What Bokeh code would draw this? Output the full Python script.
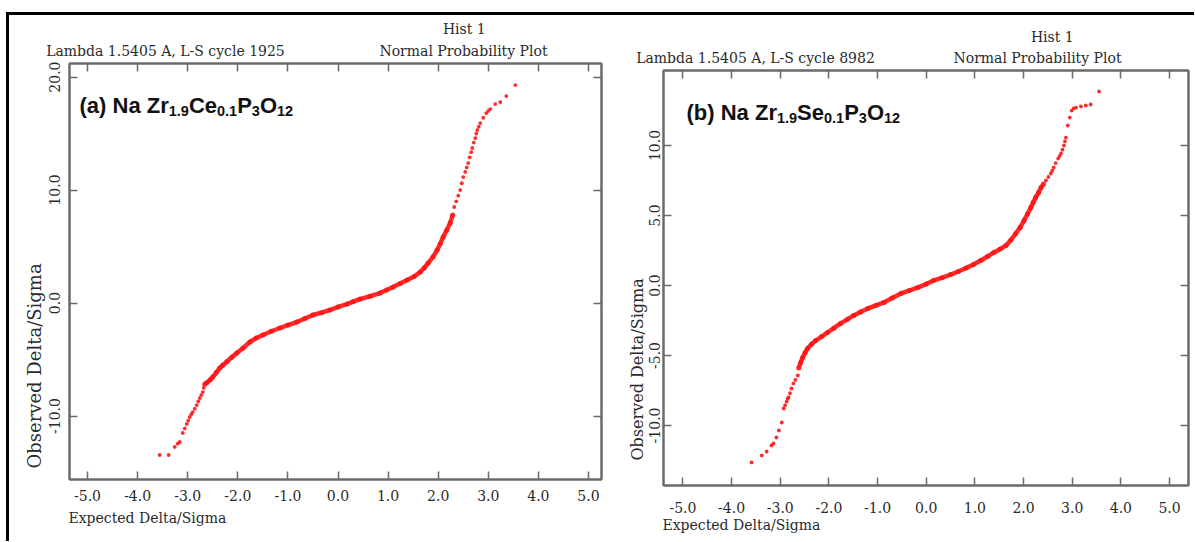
import math
from bokeh.plotting import figure
from bokeh.models import Range1d, LinearAxis, FixedTicker, PrintfTickFormatter, Label, Title, Spacer
from bokeh.layouts import row, column
from bokeh.embed import file_html
from bokeh.resources import INLINE

# ---------------- data ----------------
X_TICKS = [-5.0, -4.0, -3.0, -2.0, -1.0, 0.0, 1.0, 2.0, 3.0, 4.0, 5.0]
A_Y_TICKS = [-10.0, 0.0, 10.0, 20.0]
B_Y_TICKS = [-10.0, -5.0, 0.0, 5.0, 10.0]

HEAD_A = ["Hist 1", "Lambda 1.5405 A, L-S cycle 1925", "Normal Probability Plot"]
HEAD_B = ["Hist 1", "Lambda 1.5405 A, L-S cycle 8982", "Normal Probability Plot"]
X_TITLE = "Expected Delta/Sigma"
Y_TITLE = "Observed Delta/Sigma"

# panel (a)  Na Zr1.9Ce0.1P3O12
a_dense_x = [-2.66, -2.62, -2.55, -2.50, -2.43, -2.36, -2.30, -2.22, -2.12, -2.02, -1.90, -1.76,
             -1.63, -1.50, -1.33, -1.16, -1.00, -0.82, -0.66, -0.50, -0.33, -0.16, 0.00, 0.18,
             0.30, 0.44, 0.64, 0.84, 0.97, 1.10, 1.24, 1.38, 1.52, 1.64, 1.72, 1.80, 1.90,
             1.98, 2.04, 2.10, 2.17, 2.24, 2.29]
a_dense_y = [-7.20, -7.05, -6.80, -6.55, -6.15, -5.75, -5.50, -5.20, -4.80, -4.42, -4.00, -3.45,
             -3.10, -2.83, -2.50, -2.21, -1.95, -1.68, -1.37, -1.06, -0.85, -0.62, -0.35, -0.09,
             0.12, 0.35, 0.60, 0.88, 1.15, 1.42, 1.72, 2.04, 2.35, 2.74, 3.10, 3.54, 4.10,
             4.69, 5.25, 5.84, 6.45, 7.08, 7.80]
a_tail_x = [-3.56, -3.38, -3.26, -3.20, -3.16, -3.10, -3.06, -3.02, -2.99, -2.96, -2.93, -2.90,
            -2.86, -2.82, -2.79, -2.76, -2.73, -2.70, -2.68,
            2.32, 2.36, 2.40, 2.44, 2.47, 2.50, 2.54, 2.57, 2.60, 2.63, 2.66, 2.68, 2.71,
            2.74, 2.76, 2.78, 2.81, 2.84, 2.90, 2.96, 3.00, 3.04, 3.14, 3.24, 3.36, 3.54]
a_tail_y = [-13.45, -13.45, -12.74, -12.45, -12.30, -11.50, -11.10, -10.70, -10.40, -10.09, -9.85, -9.65,
            -9.35, -9.03, -8.70, -8.41, -8.15, -7.88, -7.50,
            8.50, 9.00, 9.50, 10.00, 10.60, 11.15, 11.60, 12.00, 12.39, 12.90, 13.35, 13.72, 14.20,
            14.60, 15.00, 15.31, 15.60, 15.93, 16.40, 16.81, 17.00, 17.17, 17.61, 17.79, 18.32, 19.29]

# panel (b)  Na Zr1.9Se0.1P3O12
b_dense_x = [-2.62, -2.58, -2.54, -2.49, -2.44, -2.36, -2.27, -2.15, -2.03, -1.90, -1.76, -1.62,
             -1.49, -1.35, -1.20, -1.03, -0.87, -0.70, -0.52, -0.35, -0.17, 0.00, 0.15, 0.32,
             0.50, 0.66, 0.82, 0.97, 1.12, 1.26, 1.39, 1.52, 1.64, 1.74, 1.84, 1.93, 2.01,
             2.08, 2.15, 2.20, 2.25, 2.31, 2.36, 2.41]
b_dense_y = [-5.90, -5.50, -5.14, -4.80, -4.50, -4.20, -3.93, -3.65, -3.36, -3.05, -2.71, -2.42,
             -2.14, -1.90, -1.64, -1.42, -1.21, -0.90, -0.57, -0.36, -0.14, 0.10, 0.36, 0.55,
             0.78, 1.00, 1.25, 1.50, 1.79, 2.07, 2.36, 2.60, 2.86, 3.25, 3.71, 4.15, 4.64,
             5.10, 5.57, 5.95, 6.29, 6.65, 7.00, 7.25]
b_tail_x = [-3.59, -3.38, -3.28, -3.18, -3.14, -3.08, -3.03, -2.97, -2.93, -2.90, -2.87, -2.85,
            -2.83, -2.80, -2.77, -2.73, -2.69, -2.64,
            2.46, 2.51, 2.56, 2.59, 2.62, 2.66, 2.71, 2.74, 2.77, 2.80, 2.83, 2.85, 2.87,
            2.91, 2.95, 2.99, 3.03, 3.08, 3.18, 3.28, 3.38, 3.55]
b_tail_y = [-12.64, -12.14, -11.86, -11.43, -11.29, -10.86, -10.36, -9.79, -8.79, -8.55, -8.29, -8.10,
            -8.00, -7.70, -7.36, -7.00, -6.75, -6.43,
            7.50, 7.75, 8.00, 8.20, 8.43, 8.75, 9.07, 9.25, 9.43, 9.70, 10.00, 10.30, 10.57,
            11.43, 12.00, 12.50, 12.65, 12.71, 12.79, 12.86, 12.93, 13.86]

# ---------------- styles ----------------
SERIF = "DejaVu Serif"
SANS = "Liberation Sans"
TXT = "#2a2a2a"
FRAME = "#6a6a6a"
RED = "#ff1414"

# Liberation Sans Bold advance widths (em)
BOLD_W = {'(': 0.333, ')': 0.333, 'a': 0.556, 'b': 0.611, ' ': 0.278, 'N': 0.722, 'Z': 0.611,
          'r': 0.389, 'C': 0.722, 'e': 0.556, 'S': 0.667, 'P': 0.667, 'O': 0.778, '1': 0.556,
          '.': 0.278, '9': 0.556, '0': 0.556, '3': 0.556, '2': 0.556}
# DejaVu Serif advance widths (em) for the short header text
SERIF_W = {'H': 0.752, 'i': 0.320, 's': 0.513, 't': 0.402, ' ': 0.318, '1': 0.636}


def text_w(s, size, table=BOLD_W):
    return sum(table.get(c, 0.556) for c in s) * size


def text_axis(ticks, labels, standoff):
    """an 'above' axis with no line/ticks, used only to carry header texts"""
    ax = LinearAxis(ticker=FixedTicker(ticks=ticks),
                    major_label_overrides={t: s for t, s in zip(ticks, labels)},
                    axis_line_color=None, major_tick_line_color=None, minor_tick_line_color=None,
                    major_tick_in=0, major_tick_out=0, major_label_standoff=standoff,
                    major_label_text_font=SERIF, major_label_text_font_size="14px",
                    major_label_text_color=TXT)
    return ax


def make_panel(geo, dense_x, dense_y, tail_x, tail_y, y_ticks, cfg, heads, formula):
    (fl, ft, fw, fh, xs, xe, ys, ye, bl, bt, br, bb) = geo
    p = figure(frame_width=fw, frame_height=fh, title=None,
               x_range=Range1d(xs, xe), y_range=Range1d(ys, ye),
               min_border_left=bl, min_border_top=bt, min_border_right=br, min_border_bottom=bb,
               output_backend="svg", toolbar_location=None,
               background_fill_color="white", border_fill_color="white")
    p.grid.visible = False
    p.outline_line_color = FRAME
    p.outline_line_width = 2

    def px2d(px, py):
        return (xs + (px - fl) / fw * (xe - xs), ye - (py - ft) / fh * (ye - ys))

    def pxx(px):
        return round(xs + (px - fl) / fw * (xe - xs), 3)

    for ax in (p.xaxis[0], p.yaxis[0]):
        ax.axis_line_color = FRAME
        ax.axis_line_width = 2
        ax.major_tick_line_color = FRAME
        ax.major_tick_line_width = 1.5
        ax.major_tick_in = 8
        ax.major_tick_out = 0
        ax.minor_tick_line_color = None
        ax.formatter = PrintfTickFormatter(format="%.1f")
        ax.major_label_text_font = SERIF
        ax.major_label_text_font_size = "14px"
        ax.major_label_text_color = TXT
    p.xaxis[0].ticker = FixedTicker(ticks=X_TICKS)
    p.yaxis[0].ticker = FixedTicker(ticks=y_ticks)
    p.yaxis[0].major_label_orientation = "vertical"
    p.xaxis[0].major_label_standoff = cfg["xstand"]
    p.yaxis[0].major_label_standoff = cfg["ystand"]

    # tick marks on top and right sides
    for loc, tk in (("above", X_TICKS), ("right", y_ticks)):
        ax = LinearAxis(ticker=FixedTicker(ticks=tk), axis_line_color=FRAME, axis_line_width=2,
                        major_tick_line_color=FRAME, major_tick_line_width=1.5,
                        major_tick_in=8, major_tick_out=0, minor_tick_line_color=None,
                        major_label_text_font_size="0px", major_label_text_color=None,
                        major_label_standoff=0)
        p.add_layout(ax, loc)

    # header rows: row 2 (two texts) as tick labels of a bare axis, row 1 as a title
    hist_x, lam_x, npp_x = cfg["head_px"]
    p.add_layout(text_axis([pxx(lam_x), pxx(npp_x)], [heads[1], heads[2]], cfg["row2_stand"]), "above")
    p.add_layout(Title(text=heads[0], align="left",
                       offset=hist_x - fl - text_w(heads[0], 14, SERIF_W) / 2,
                       standoff=cfg["row1_stand"], text_font=SERIF, text_font_size="14px",
                       text_font_style="normal", text_color=TXT), "above")

    # axis titles
    p.add_layout(Title(text=Y_TITLE, align="left", offset=cfg["yt_off"],
                       standoff=cfg["yt_stand"], text_font=SERIF, text_font_size=cfg["yt_size"],
                       text_font_style="normal", text_color=TXT), "left")
    p.add_layout(Title(text=X_TITLE, align="left", offset=-1,
                       standoff=cfg["xt_stand"], text_font=SERIF, text_font_size="14px",
                       text_font_style="normal", text_color=TXT), "below")

    # points
    p.line(dense_x, dense_y, line_width=4.5, color=RED, line_alpha=0.9)
    p.scatter(dense_x, dense_y, size=5, color=RED, line_width=0, alpha=0.9)
    p.scatter(tail_x, tail_y, size=3.8, color=RED, line_width=0, alpha=0.9)

    # chemical formula with subscripts
    F, f, drop = 22, 14.5, 5
    cx, by = formula["start"]
    for piece, sub in formula["pieces"]:
        size = f if sub else F
        x, y = px2d(cx, by + (drop if sub else 0))
        p.add_layout(Label(x=x, y=y, text=piece, text_align="left", text_baseline="alphabetic",
                           text_font=SANS, text_font_size=f"{size}px", text_font_style="bold",
                           text_color="#111111"))
        cx += text_w(piece, size)
    return p


H = 526
# frame left/top (page px), frame w/h, ranges, borders l/t/r/b
GEO_A = (69, 63, 532, 416, -5.36, 5.26, -15.62, 21.2, 60, 48, 2, H - 48 - 416)
GEO_B = (663, 70, 525, 415, -5.40, 5.39, -14.29, 15.36, 60, 55, 6, H - 55 - 415)

CFG_A = {"xstand": 10, "ystand": 9, "yt_off": 11, "yt_stand": 4, "yt_size": "18px", "xt_stand": 9,
         "head_px": (463, 165, 463), "row2_stand": 5, "row1_stand": 5}
CFG_B = {"xstand": 16, "ystand": 3, "yt_off": 25, "yt_stand": -1, "yt_size": "16px", "xt_stand": -2,
         "head_px": (1051, 755, 1037), "row2_stand": 5, "row1_stand": 3}

FORM_A = {"start": (79, 105), "pieces": [("(a) Na Zr", False), ("1.9", True), ("Ce", False),
                                         ("0.1", True), ("P", False), ("3", True),
                                         ("O", False), ("12", True)]}
FORM_B = {"start": (686, 112), "pieces": [("(b) Na Zr", False), ("1.9", True), ("Se", False),
                                          ("0.1", True), ("P", False), ("3", True),
                                          ("O", False), ("12", True)]}

p1 = make_panel(GEO_A, a_dense_x, a_dense_y, a_tail_x, a_tail_y, A_Y_TICKS, CFG_A, HEAD_A, FORM_A)
p2 = make_panel(GEO_B, b_dense_x, b_dense_y, b_tail_x, b_tail_y, B_Y_TICKS, CFG_B, HEAD_B, FORM_B)

left_gap = Spacer(width=6, height=12 + 3 + H)
top_gap = Spacer(width=1188, height=12)
top_bar = Spacer(width=1188, height=3, styles={"background-color": "#000000"})
left_bar = Spacer(width=3, height=H, styles={"background-color": "#000000"})

# each plot in its own column so that the two frames are not aligned to each other
layout = row(left_gap, column(top_gap, top_bar, row(left_bar, column(p1), column(p2))))

open("out.html", "w").write(file_html(layout, INLINE))
